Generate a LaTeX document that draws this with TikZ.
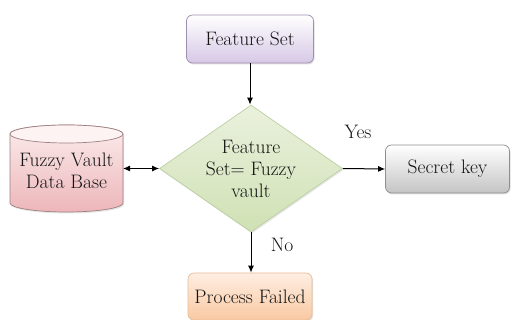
\documentclass[tikz,border=0pt]{standalone}
\usetikzlibrary{shapes.geometric,arrows.meta,shadows,calc}
\definecolor{txt}{HTML}{141414}
\definecolor{fsdraw}{HTML}{9D8FAE}
\definecolor{fsbot}{HTML}{D6C8E6}
\definecolor{didraw}{HTML}{BCCFA0}
\definecolor{ditop}{HTML}{EAF1DE}
\definecolor{dibot}{HTML}{D0E1B4}
\definecolor{cydraw}{HTML}{A08080}
\definecolor{cytop}{HTML}{FBECEC}
\definecolor{cybot}{HTML}{EDB6BA}
\definecolor{cylid}{HTML}{FDF3F3}
\definecolor{skdraw}{HTML}{8E8E8E}
\definecolor{skbot}{HTML}{C4C4C4}
\definecolor{pfdraw}{HTML}{E9BC96}
\definecolor{pftop}{HTML}{FEEEE2}
\definecolor{pfbot}{HTML}{F9C9A2}
\tikzset{
  lbl/.style={font=\rmfamily\fontsize{19.5}{22}\selectfont, text=txt},
  boxbase/.style={rounded corners=6pt, inner sep=0pt, lbl, line width=0.7pt,
    drop shadow={opacity=0.25, shadow xshift=1pt, shadow yshift=-1.5pt}},
  arr/.style={-{Latex[length=7pt,width=6pt]}, line width=1pt, black},
  darr/.style={{Latex[length=7pt,width=6pt]}-{Latex[length=7pt,width=6pt]}, line width=1pt, black}
}
\begin{document}
\begin{tikzpicture}[x=1pt,y=1pt]
\useasboundingbox (0,0) rectangle (511,-320);
% Feature Set
\node[boxbase, draw=fsdraw, top color=white, bottom color=fsbot,
  minimum width=127pt, minimum height=48pt] (fs) at (250,-39) {Feature Set};
% Decision diamond
\node[diamond, aspect=1.44, inner sep=0pt, minimum width=183pt, minimum height=127pt,
  draw=didraw, line width=0.7pt, top color=ditop, bottom color=dibot,
  align=center, lbl,
  drop shadow={opacity=0.2, shadow xshift=1pt, shadow yshift=-1.5pt}] (dia) at (251,-168.5)
  {Feature\\Set= Fuzzy\\vault};
% Cylinder
\fill[gray, opacity=0.2] (11,-135.5) -- (11,-204.5) arc[start angle=180, end angle=360, x radius=56.5, y radius=9] -- (124,-135.5) -- cycle;
\draw[draw=cydraw, line width=0.7pt, top color=cytop, bottom color=cybot]
  (10,-134) -- (10,-203) arc[start angle=180, end angle=360, x radius=56.5, y radius=9]
  -- (123,-134) arc[start angle=0, end angle=180, x radius=56.5, y radius=9] -- cycle;
\draw[draw=cydraw, line width=0.7pt, fill=cylid] (66.5,-134) ellipse[x radius=56.5, y radius=9];
\node[inner sep=0pt, minimum width=113pt, minimum height=87pt, align=center, lbl] (cyl) at (66.5,-171)
  {Fuzzy Vault\\Data Base};
\coordinate (cylE) at (123,-168.5);
% Secret key
\node[boxbase, draw=skdraw, top color=white, bottom color=skbot,
  minimum width=124pt, minimum height=48pt] (sk) at (447.5,-169) {Secret key};
% Process Failed
\node[boxbase, draw=pfdraw, top color=pftop, bottom color=pfbot,
  minimum width=124pt, minimum height=47pt] (pf) at (250,-296.5) {Process Failed};
% Connectors
\draw[arr] (fs.south) -- (fs.south |- dia.north);
\draw[darr] (cylE) -- (dia.west);
\draw[arr] (dia.east) -- (sk.west);
\draw[arr] (dia.south) -- (dia.south |- pf.north);
% Labels
\node[lbl, inner sep=0pt] (yes) at (358,-132) {Yes};
\node[lbl, inner sep=0pt] (no) at (282,-245) {No};
\end{tikzpicture}
\end{document}
